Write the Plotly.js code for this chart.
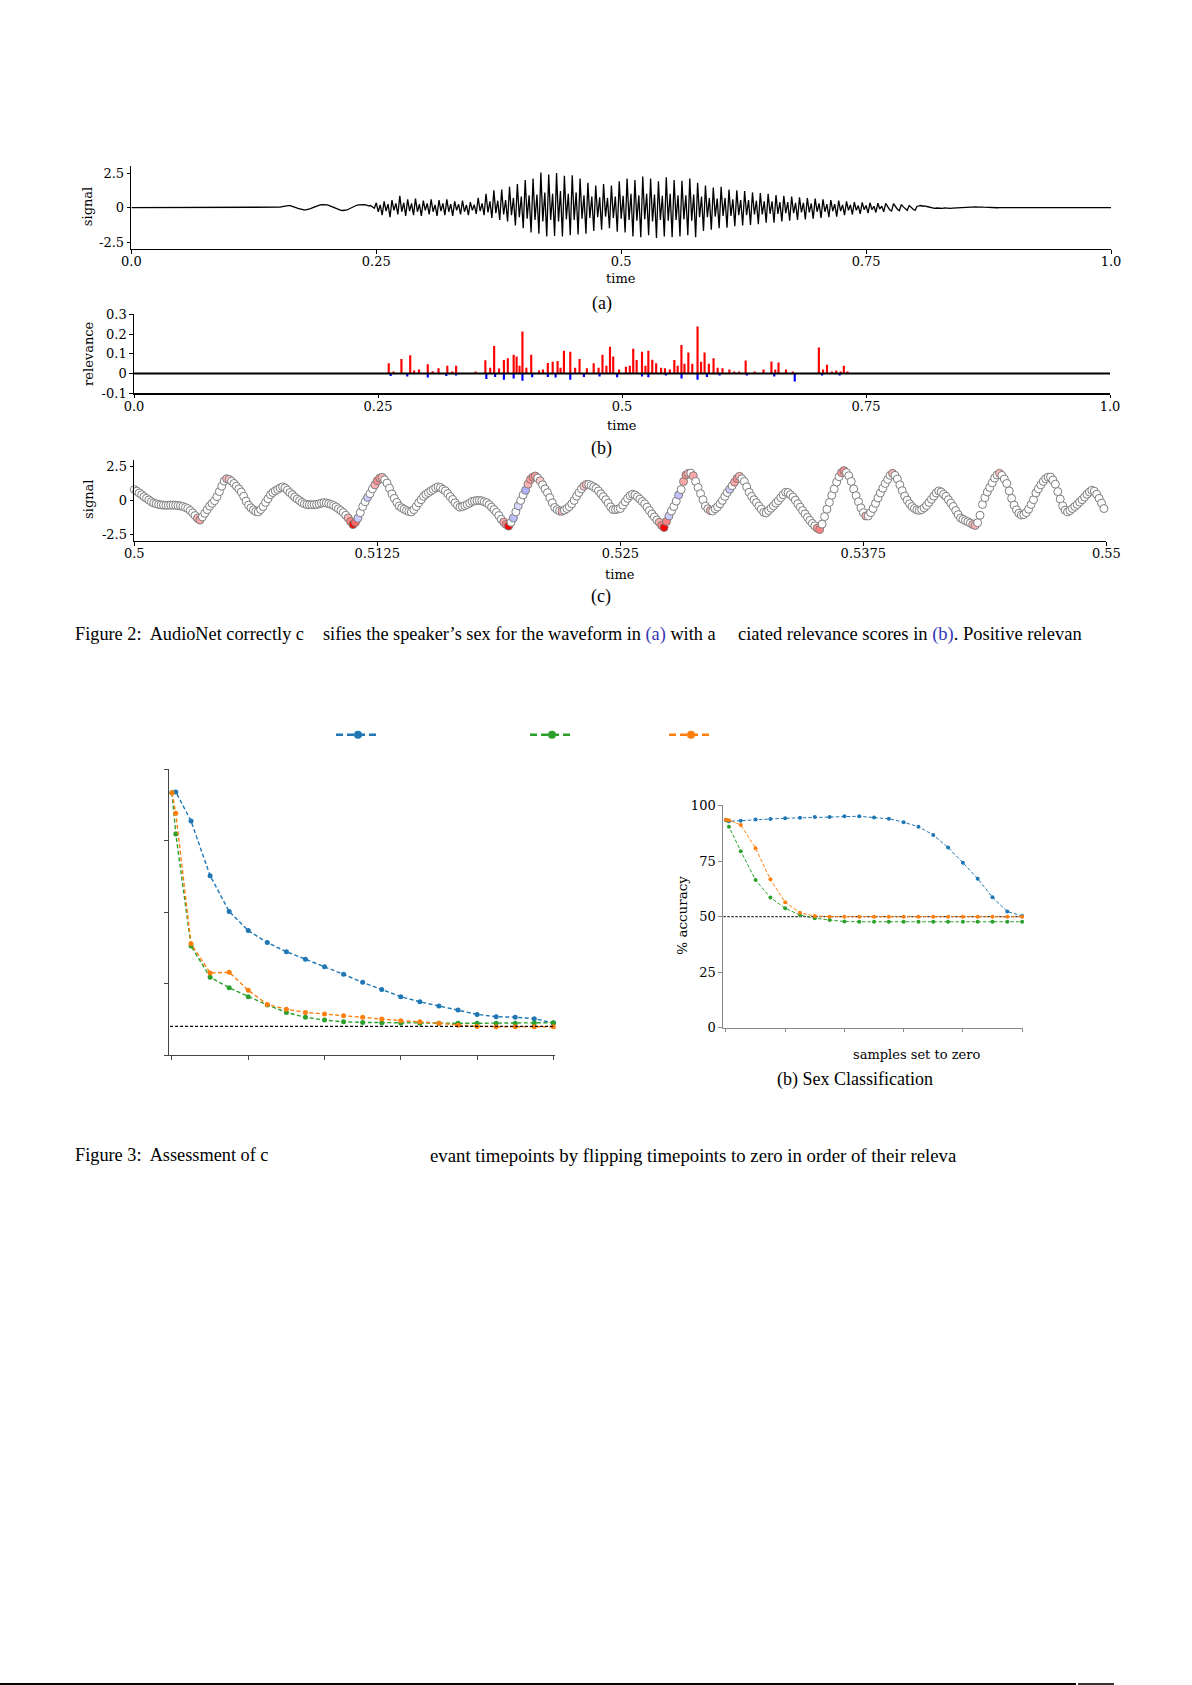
<!DOCTYPE html>
<html>
<head>
<meta charset="utf-8">
<script src="https://cdn.plot.ly/plotly-3.0.1.min.js"></script>
<style>html,body{margin:0;padding:0;background:#fff;}#plot{width:1192px;height:1685px;}</style>
</head>
<body>
<div id="plot"></div>
<script>
// ---------------- DATA ----------------
// Figure 2(a): waveform, sampled from t0 with step dt (flat zero outside)
const sigA_t0 = 0.15, sigA_dt = 0.002, sigA_start = 0.0, sigA_end = 1.0;
const sigA = [
 0.00,0.03,0.07,0.11,0.14,0.15,0.14,0.11,0.06,0.00,
 -0.05,-0.10,-0.14,-0.16,-0.16,-0.14,-0.10,-0.04,0.03,0.09,
 0.14,0.18,0.21,0.22,0.22,0.20,0.15,0.09,0.02,-0.05,
 -0.12,-0.17,-0.20,-0.21,-0.20,-0.16,-0.10,-0.03,0.05,0.12,
 0.17,0.20,0.22,0.21,0.22,0.18,0.12,0.15,0.05,-0.05,
 0.35,-0.3,0.2,-0.55, 0.45,-0.25,0.25,-0.7, 0.55,-0.2,0.3,-0.5, 0.85,-0.3,0.35,-0.6,
 0.6,-0.25,0.3,-0.55, 0.65,-0.3,0.25,-0.6, 0.5,-0.2,0.3,-0.5, 0.6,-0.3,0.2,-0.6,
 0.55,-0.25,0.3,-0.55, 0.6,-0.3,0.25,-0.6, 0.45,-0.2,0.25,-0.5, 0.5,-0.3,0.2,-0.55,
 0.4,-0.2,0.2,-0.45, 0.7,-0.25,0.3,-0.55, 1.0,-0.35,0.45,-0.75, 1.25,-0.4,0.5,-0.9,
 1.3,-0.5,0.55,-1.0, 1.5,-0.55,0.7,-1.3, 1.7,-0.7,0.8,-1.5, 2.0,-0.8,0.9,-1.8,
 2.1,-0.9,0.95,-1.9, 2.55,-1.0,1.1,-2.1, 2.4,-0.9,1.0,-2.05, 2.5,-1.0,1.2,-2.1,
 2.3,-0.85,1.0,-2.0, 2.35,-0.9,1.1,-1.95, 2.1,-0.8,0.9,-1.9, 1.8,-0.75,0.8,-1.7,
 1.6,-0.7,0.75,-1.6, 1.7,-0.65,0.7,-1.5, 1.6,-0.75,0.8,-1.75, 1.9,-0.8,0.85,-1.8,
 2.1,-0.9,1.0,-2.1, 2.0,-0.95,0.9,-2.15, 2.25,-0.85,1.0,-2.0, 2.1,-1.0,0.95,-2.2,
 1.9,-0.9,0.85,-2.1, 2.2,-0.95,1.0,-2.15, 2.0,-0.9,0.9,-2.1, 1.95,-0.85,0.9,-2.0,
 2.1,-0.95,0.95,-2.15, 1.8,-0.7,0.8,-1.7, 1.6,-0.7,0.7,-1.6, 1.45,-0.65,0.65,-1.5,
 1.5,-0.6,0.7,-1.45, 1.3,-0.6,0.6,-1.35, 1.25,-0.55,0.55,-1.3, 1.2,-0.55,0.55,-1.25,
 1.1,-0.5,0.5,-1.2, 1.05,-0.5,0.45,-1.1, 1.0,-0.45,0.45,-1.1, 0.9,-0.45,0.4,-1.0,
 0.85,-0.4,0.4,-0.95, 0.8,-0.4,0.35,-0.9, 0.75,-0.35,0.35,-0.85, 0.7,-0.35,0.3,-0.8,
 0.65,-0.3,0.3,-0.75, 0.6,-0.3,0.25,-0.7, 0.55,-0.25,0.25,-0.65, 0.5,-0.25,0.2,-0.55,
 0.45,-0.2,0.2,-0.5, 0.4,-0.2,0.15,-0.45, 0.38,-0.15,0.15,-0.4, 0.35,-0.15,0.1,-0.35,
 0.32,-0.1,0.1,-0.3, 0.3,0.1,-0.15,-0.25, 0.28,0.08,-0.12,-0.22, 0.22,0.05,-0.1,-0.2,
 0.15,0.0,-0.12,-0.2, 0.1,0.12,0.15,0.1, 0.12,0.08,0.05,0.0, -0.02,-0.05,-0.03,-0.05,
 -0.04,-0.05,-0.02,-0.04, -0.03,-0.05,-0.04,-0.03, -0.02,-0.04,-0.03,-0.02, 0.0,-0.02,0.01,0.02,
 0.03,0.04,0.05,0.03, 0.05,0.04,0.03,0.02, 0.0,-0.02,-0.03,-0.02, -0.02,-0.01,0.0,0.0
];
const timeTickVals = [0, 0.25, 0.5, 0.75, 1.0];
const timeTickText = ['0.0', '0.25', '0.5', '0.75', '1.0'];
const signalTickVals = [-2.5, 0, 2.5];
const signalTickText = ['-2.5', '0', '2.5'];

// Figure 2(b): relevance spikes
const relPosT = [0.261,0.266,0.274,0.283,0.287,0.292,0.301,0.306,0.312,0.321,0.326,0.330,0.350,0.360,0.365,0.369,0.374,0.379,0.383,0.389,0.392,0.395,0.398,0.402,0.407,0.415,0.419,0.424,0.429,0.434,0.437,0.4405,0.447,0.452,0.4565,0.464,0.471,0.476,0.480,0.484,0.4877,0.491,0.497,0.504,0.508,0.5115,0.515,0.5205,0.524,0.527,0.531,0.535,0.540,0.544,0.549,0.5536,0.557,0.5609,0.564,0.568,0.572,0.5774,0.581,0.5846,0.589,0.5938,0.598,0.603,0.610,0.615,0.620,0.6267,0.636,0.645,0.6531,0.657,0.6604,0.668,0.675,0.7017,0.706,0.710,0.715,0.7195,0.724,0.7273,0.731];
const relPosV = [0.052,0.010,0.074,0.093,0.015,0.020,0.047,0.012,0.027,0.039,0.010,0.039,0.010,0.067,0.030,0.140,0.025,0.069,0.078,0.095,0.086,0.040,0.213,0.030,0.095,0.015,0.020,0.054,0.060,0.064,0.030,0.116,0.110,0.030,0.074,0.027,0.052,0.030,0.095,0.040,0.136,0.086,0.020,0.035,0.040,0.125,0.069,0.110,0.040,0.115,0.070,0.052,0.030,0.027,0.020,0.069,0.040,0.145,0.050,0.106,0.050,0.238,0.060,0.106,0.050,0.078,0.030,0.027,0.020,0.010,0.010,0.066,0.010,0.020,0.061,0.020,0.056,0.020,0.010,0.132,0.020,0.044,0.010,0.015,0.010,0.039,0.010];
const relNegT = [0.263,0.280,0.301,0.320,0.330,0.361,0.370,0.379,0.389,0.398,0.408,0.424,0.432,0.447,0.461,0.477,0.495,0.5205,0.527,0.545,0.561,0.5774,0.587,0.600,0.628,0.656,0.677,0.705,0.723];
const relNegV = [-0.012,-0.015,-0.020,-0.012,-0.010,-0.027,-0.017,-0.032,-0.025,-0.037,-0.019,-0.017,-0.020,-0.032,-0.017,-0.015,-0.019,-0.015,-0.019,-0.010,-0.025,-0.032,-0.017,-0.010,-0.010,-0.015,-0.040,-0.010,-0.010];
const zeroLineT = [0, 1.0], zeroLineV = [0, 0];
const relTickVals = [-0.1, 0, 0.1, 0.2, 0.3];
const relTickText = ['-0.1', '0', '0.1', '0.2', '0.3'];

// Figure 2(c): 400 samples at 8 kHz from t = 0.5
const sigC_t0 = 0.5, sigC_rate = 8000;
const sigC = [
 0.80,0.68,0.55,0.42,0.28,0.15,0.03,-0.10,-0.19,-0.25,
 -0.30,-0.33,-0.35,-0.36,-0.36,-0.35,-0.35,-0.36,-0.38,-0.40,
 -0.45,-0.52,-0.60,-0.75,-0.92,-1.12,-1.32,-1.45,-1.22,-0.95,
 -0.68,-0.42,-0.22,-0.02,0.28,0.65,1.05,1.43,1.60,1.55,
 1.42,1.25,1.05,0.85,0.62,0.30,-0.05,-0.35,-0.55,-0.70,
 -0.82,-0.85,-0.68,-0.45,-0.15,0.12,0.42,0.58,0.70,0.81,
 0.92,1.00,0.92,0.76,0.58,0.42,0.25,0.10,-0.02,-0.15,
 -0.25,-0.30,-0.32,-0.32,-0.31,-0.30,-0.26,-0.20,-0.17,-0.19,
 -0.24,-0.30,-0.38,-0.48,-0.62,-0.75,-0.90,-1.10,-1.30,-1.55,
 -1.78,-1.62,-1.32,-0.90,-0.45,-0.10,0.22,0.50,0.85,1.15,
 1.45,1.65,1.70,1.52,1.28,0.90,0.48,0.15,-0.15,-0.42,
 -0.55,-0.65,-0.75,-0.82,-0.85,-0.68,-0.45,-0.18,0.05,0.30,
 0.45,0.58,0.70,0.81,0.92,1.00,0.95,0.82,0.70,0.50,
 0.28,0.07,-0.18,-0.38,-0.50,-0.46,-0.38,-0.30,-0.20,-0.08,
 -0.04,-0.01,0.00,-0.03,-0.10,-0.17,-0.32,-0.50,-0.68,-0.88,
 -1.12,-1.40,-1.60,-1.78,-1.90,-1.62,-1.30,-0.85,-0.40,0.00,
 0.40,0.75,1.20,1.55,1.72,1.80,1.65,1.45,1.15,0.85,
 0.57,0.20,-0.18,-0.52,-0.68,-0.78,-0.80,-0.72,-0.60,-0.46,
 -0.25,0.00,0.32,0.58,0.85,1.05,1.18,1.18,1.10,1.00,
 0.88,0.70,0.48,0.28,0.05,-0.20,-0.48,-0.68,-0.68,-0.64,
 -0.60,-0.35,-0.10,0.15,0.35,0.45,0.40,0.26,0.10,-0.08,
 -0.25,-0.50,-0.75,-1.00,-1.22,-1.45,-1.62,-1.85,-2.00,-1.55,
 -1.15,-0.78,-0.45,-0.05,0.40,0.80,1.40,1.88,2.00,2.02,
 1.82,1.40,0.95,0.50,0.05,-0.42,-0.62,-0.75,-0.78,-0.62,
 -0.48,-0.25,0.00,0.30,0.58,0.82,1.08,1.35,1.62,1.78,
 1.60,1.40,1.00,0.60,0.30,0.05,-0.17,-0.42,-0.65,-0.88,
 -0.92,-0.75,-0.58,-0.40,-0.20,-0.02,0.20,0.42,0.60,0.58,
 0.42,0.25,0.02,-0.25,-0.50,-0.75,-1.00,-1.25,-1.48,-1.70,
 -1.88,-2.05,-2.15,-1.75,-1.20,-0.65,-0.15,0.38,0.85,1.35,
 1.75,2.05,2.20,2.05,1.82,1.40,0.85,0.35,-0.10,-0.55,
 -0.90,-1.15,-1.15,-0.90,-0.60,-0.22,0.18,0.55,0.90,1.25,
 1.55,1.85,2.00,1.85,1.58,1.15,0.72,0.32,0.02,-0.25,
 -0.45,-0.60,-0.70,-0.74,-0.68,-0.55,-0.38,-0.15,0.08,0.32,
 0.55,0.70,0.62,0.45,0.30,0.05,-0.20,-0.45,-0.75,-1.05,
 -1.30,-1.40,-1.50,-1.58,-1.68,-1.78,-1.85,-1.65,-1.10,-0.30,
 0.20,0.62,0.95,1.30,1.65,1.88,2.00,1.85,1.58,1.25,
 0.70,0.15,-0.35,-0.70,-0.95,-1.08,-1.05,-0.90,-0.65,-0.30,
 0.05,0.55,0.85,1.15,1.40,1.60,1.72,1.72,1.50,1.20,
 0.65,0.10,-0.40,-0.72,-0.85,-0.75,-0.60,-0.45,-0.30,-0.12,
 0.05,0.25,0.45,0.62,0.75,0.68,0.45,0.15,-0.20,-0.60
];
const relCIdx = [26,27,38,39,88,89,90,91,92,96,99,100,101,102,152,153,154,156,158,161,162,163,164,165,167,176,185,186,216,217,218,219,220,224,226,227,228,230,237,245,247,248,249,281,282,291,292,301,312,345,346,356];
const relCVal = [0.3,0.35,0.25,0.2,0.3,0.5,1.0,0.6,-0.2,-0.2,0.3,0.45,0.4,0.3,0.35,0.5,1.0,-0.25,-0.15,-0.3,0.3,0.4,0.45,0.4,0.2,0.3,0.2,0.25,0.3,0.5,1.0,0.5,-0.2,-0.25,0.35,0.45,0.3,0.35,0.3,-0.2,0.35,0.45,0.3,0.4,0.5,0.4,0.45,0.3,0.3,0.25,0.3,0.25];
const zoomTickVals = [0.5, 0.5125, 0.525, 0.5375, 0.55];
const zoomTickText = ['0.5', '0.5125', '0.525', '0.5375', '0.55'];

// Figure 3: accuracy (%) vs. samples set to zero
const flipX = [0,1,5,10,15,20,25,30,35,40,45,50,55,60,65,70,75,80,85,90,95,100];
const digitBlue   = [91.7,92.0,81.8,62.7,50.2,43.5,39.3,36.1,33.5,30.9,28.2,25.4,22.9,20.4,18.6,17.1,15.7,14.2,13.4,13.2,12.7,11.2];
const digitGreen  = [91.7,77.3,38.1,27.2,23.5,20.4,17.5,14.9,13.2,12.2,11.6,11.4,11.3,11.2,11.1,11.1,11.1,11.1,11.1,11.1,11.2,11.3];
const digitOrange = [91.7,84.5,38.9,28.7,28.9,22.6,17.7,16.0,14.9,14.3,13.7,13.2,12.6,12.0,11.6,11.1,10.4,10.0,9.9,9.9,9.9,9.9];
const digitChanceX = [-0.5, 100], digitChanceY = [10, 10];
const sexBlue   = [93.4,93.0,93.2,93.7,94.0,94.3,94.5,94.9,94.9,95.2,95.2,94.6,94.1,92.5,90.5,86.8,81.1,74.3,67.1,58.7,52.3,50.3];
const sexGreen  = [93.6,90.5,79.5,66.5,58.6,53.8,50.7,49.3,48.5,47.8,47.7,47.7,47.7,47.7,47.7,47.7,47.7,47.7,47.7,47.7,47.7,47.7];
const sexOrange = [93.6,93.4,91.3,80.8,66.8,56.5,51.8,50.3,50.0,50.0,50.0,50.0,50.0,50.0,50.0,50.0,50.0,50.0,50.0,50.0,50.0,50.0];
const sexChanceX = [-0.9, 100], sexChanceY = [50, 50];
const flipTickVals = [0, 20, 40, 60, 80, 100];
const accTickVals = [0, 25, 50, 75, 100];
const accTickText = ['0', '25', '50', '75', '100'];
const seriesColors = ['#1f77b4', '#2ca02c', '#ff7f0e'];

// ---------------- LAYOUT HELPERS ----------------
const W = 1192, H = 1685;
const PX = p => p / W;
const PY = p => 1 - p / H;
const SERIF_FIG = 'DejaVu Serif, serif';
const SERIF_TXT = 'Liberation Serif, Times New Roman, serif';

function sampleTimes(t0, step, n) { const a = []; for (let i = 0; i < n; i++) a.push(t0 + i * step); return a; }

const tA = [sigA_start].concat(sampleTimes(sigA_t0, sigA_dt, sigA.length), [sigA_end]);
const yA = [0].concat(sigA, [0]);
const tC = sampleTimes(sigC_t0, 1 / sigC_rate, sigC.length);
const relC = sigC.map(() => 0);
relCIdx.forEach((k, j) => { relC[k] = relCVal[j]; });

const traces = [
  {x: tA, y: yA, xaxis: 'x', yaxis: 'y', mode: 'lines', line: {color: '#000', width: 1.3}, showlegend: false, hoverinfo: 'skip'},
  {x: zeroLineT, y: zeroLineV, xaxis: 'x2', yaxis: 'y2', mode: 'lines', line: {color: '#000', width: 2}, showlegend: false},
  {type: 'bar', x: relPosT, y: relPosV, xaxis: 'x2', yaxis: 'y2', width: 0.0022, marker: {color: '#ff0000', line: {width: 0}}, showlegend: false},
  {type: 'bar', x: relNegT, y: relNegV, xaxis: 'x2', yaxis: 'y2', width: 0.0022, marker: {color: '#0000ff', line: {width: 0}}, showlegend: false},
  {x: tC, y: sigC, xaxis: 'x3', yaxis: 'y3', mode: 'markers', cliponaxis: false,
   marker: {size: 8, color: relC, cmin: -1, cmax: 1, colorscale: [[0, '#0000ff'], [0.5, '#ffffff'], [1, '#ff0000']], showscale: false,
            line: {color: '#7d7d7d', width: 1}}, showlegend: false},
];

const digitSeries = [digitBlue, digitGreen, digitOrange];
const sexSeries = [sexBlue, sexGreen, sexOrange];
digitSeries.forEach((s, i) => traces.push({x: flipX, y: s, xaxis: 'x4', yaxis: 'y4', mode: 'lines+markers',
  line: {color: seriesColors[i], width: 1.4, dash: '4px,2.5px'}, marker: {color: seriesColors[i], size: 5}, showlegend: false, cliponaxis: false}));
traces.push({x: digitChanceX, y: digitChanceY, xaxis: 'x4', yaxis: 'y4', mode: 'lines', line: {color: '#000', width: 1.4, dash: '3px,2px'}, showlegend: false});
traces.push({x: sexChanceX, y: sexChanceY, xaxis: 'x5', yaxis: 'y5', mode: 'lines', line: {color: '#333', width: 1.1, dash: '2.5px,1.5px'}, showlegend: false});
sexSeries.forEach((s, i) => traces.push({x: flipX, y: s, xaxis: 'x5', yaxis: 'y5', mode: 'lines+markers',
  line: {color: seriesColors[i], width: 1.0, dash: '3.5px,2px'}, marker: {color: seriesColors[i], size: 4}, showlegend: false, cliponaxis: false}));
// legend keys (one legend per series, labels left blank as in the reference)
['legend', 'legend2', 'legend3'].forEach((lg, i) => traces.push({x: [null], y: [null], xaxis: 'x4', yaxis: 'y4', mode: 'lines+markers',
  name: '\u00a0', legend: lg, showlegend: true, line: {color: seriesColors[i], width: 2.4, dash: '7px,4px'}, marker: {color: seriesColors[i], size: 8}}));

function axisBase(extra) {
  return Object.assign({showline: true, linecolor: '#000', linewidth: 1.2, ticks: 'outside', ticklen: 4, tickwidth: 1, tickcolor: '#000',
    showgrid: false, zeroline: false, fixedrange: true, tickfont: {family: SERIF_FIG, size: 13, color: '#000'}, mirror: false}, extra);
}

function ann(text, x, y, o) {
  return Object.assign({text: text, xref: 'paper', yref: 'paper', x: PX(x), y: PY(y), xanchor: 'center', yanchor: 'middle', showarrow: false,
    font: {family: SERIF_FIG, size: 13, color: '#000'}}, o || {});
}
const cap = {family: SERIF_TXT, size: 18.3, color: '#000'};
const capSmall = {family: SERIF_TXT, size: 18, color: '#000'};
const link = s => '<span style="color:#3535b5">' + s + '</span>';

const legendBase = i => ({orientation: 'h', x: PX([331, 525, 664][i]), y: PY(734.7), xanchor: 'left', yanchor: 'middle', bgcolor: 'rgba(0,0,0,0)',
  borderwidth: 0, itemwidth: 44, font: {family: SERIF_FIG, size: 12}, itemclick: false, itemdoubleclick: false});

const layout = {
  width: W, height: H, margin: {l: 0, r: 0, t: 0, b: 0}, paper_bgcolor: '#fff', plot_bgcolor: 'rgba(0,0,0,0)',
  showlegend: true, barmode: 'overlay', hovermode: false,
  legend: legendBase(0), legend2: legendBase(1), legend3: legendBase(2),
  xaxis: axisBase({domain: [PX(131.4), PX(1111)], range: [0, 1], anchor: 'y', tickvals: timeTickVals, ticktext: timeTickText, ticklen: 3.5, ticklabelstandoff: -3}),
  yaxis: axisBase({domain: [PY(249), PY(166.2)], range: [-3, 3], anchor: 'x', tickvals: signalTickVals, ticktext: signalTickText, ticklen: 3.5}),
  xaxis2: axisBase({domain: [PX(134), PX(1110)], range: [0, 1], anchor: 'y2', tickvals: timeTickVals, ticktext: timeTickText, ticklen: 3.5, ticklabelstandoff: -3}),
  yaxis2: axisBase({domain: [PY(393.3), PY(314.3)], range: [-0.1, 0.3], anchor: 'x2', tickvals: relTickVals, ticktext: relTickText, ticklen: 3.5}),
  xaxis3: axisBase({domain: [PX(134.3), PX(1106.4)], range: [0.5, 0.55], anchor: 'y3', tickvals: zoomTickVals, ticktext: zoomTickText, ticklen: 3.5, ticklabelstandoff: -3}),
  yaxis3: axisBase({domain: [PY(541), PY(459.8)], range: [-3, 3], anchor: 'x3', tickvals: signalTickVals, ticktext: signalTickText, ticklen: 3.5}),
  xaxis4: axisBase({domain: [PX(169.3), PX(554.5)], range: [-0.7, 100.3], anchor: 'y4', tickvals: flipTickVals, showticklabels: false,
    linecolor: '#444', tickcolor: '#444', ticklen: 4}),
  yaxis4: axisBase({domain: [PY(1055), PY(769)], range: [0, 100], anchor: 'x4', tickvals: accTickVals, showticklabels: false,
    linecolor: '#444', tickcolor: '#444', ticklen: 4}),
  xaxis5: axisBase({domain: [PX(723.3), PX(1023)], range: [-0.9, 100.3], anchor: 'y5', tickvals: flipTickVals, showticklabels: false,
    linecolor: '#888', tickcolor: '#888', linewidth: 1, ticklen: 3}),
  yaxis5: axisBase({domain: [PY(1027.7), PY(804.5)], range: [0, 100.5], anchor: 'x5', tickvals: accTickVals, ticktext: accTickText,
    linecolor: '#888', tickcolor: '#888', linewidth: 1, ticklen: 4}),
  annotations: [
    ann('signal', 87.5, 206.7, {textangle: -90}),
    ann('time', 621, 278.3),
    ann('(a)', 601.5, 303.3, {font: capSmall}),
    ann('relevance', 88.6, 353.3, {textangle: -90}),
    ann('time', 622, 426),
    ann('(b)', 601.5, 448.3, {font: capSmall}),
    ann('signal', 88.6, 499.3, {textangle: -90}),
    ann('time', 620, 574),
    ann('(c)', 601, 597, {font: capSmall}),
    ann('Figure 2:  AudioNet correctly c', 72.7, 634, {xanchor: 'left', font: cap}),
    ann('sifies the speaker\u2019s sex for the waveform in ' + link('(a)') + ' with a', 321, 634, {xanchor: 'left', font: cap}),
    ann('ciated relevance scores in ' + link('(b)') + '. Positive relevan', 736, 634, {xanchor: 'left', font: {family: SERIF_TXT, size: 18.5, color: '#000'}}),
    ann('% accuracy', 681.7, 915, {textangle: -90, font: {family: SERIF_FIG, size: 13.5, color: '#000'}}),
    ann('samples set to zero', 916.5, 1054),
    ann('(b) Sex Classification', 855, 1079.3, {font: capSmall}),
    ann('Figure 3:  Assessment of c', 72.7, 1155, {xanchor: 'left', font: cap}),
    ann('evant timepoints by flipping timepoints to zero in order of their releva', 428.4, 1155, {xanchor: 'left', font: {family: SERIF_TXT, size: 18.8, color: '#000'}}),
  ],
  shapes: [
    {type: 'line', xref: 'paper', yref: 'paper', x0: 0, x1: PX(1076), y0: PY(1684), y1: PY(1684), line: {color: '#000', width: 2}},
    {type: 'line', xref: 'paper', yref: 'paper', x0: PX(1078), x1: PX(1114), y0: PY(1684), y1: PY(1684), line: {color: '#333', width: 2}},
  ],
};

Plotly.newPlot('plot', traces, layout, {staticPlot: true, displayModeBar: false});
</script>
</body>
</html>
